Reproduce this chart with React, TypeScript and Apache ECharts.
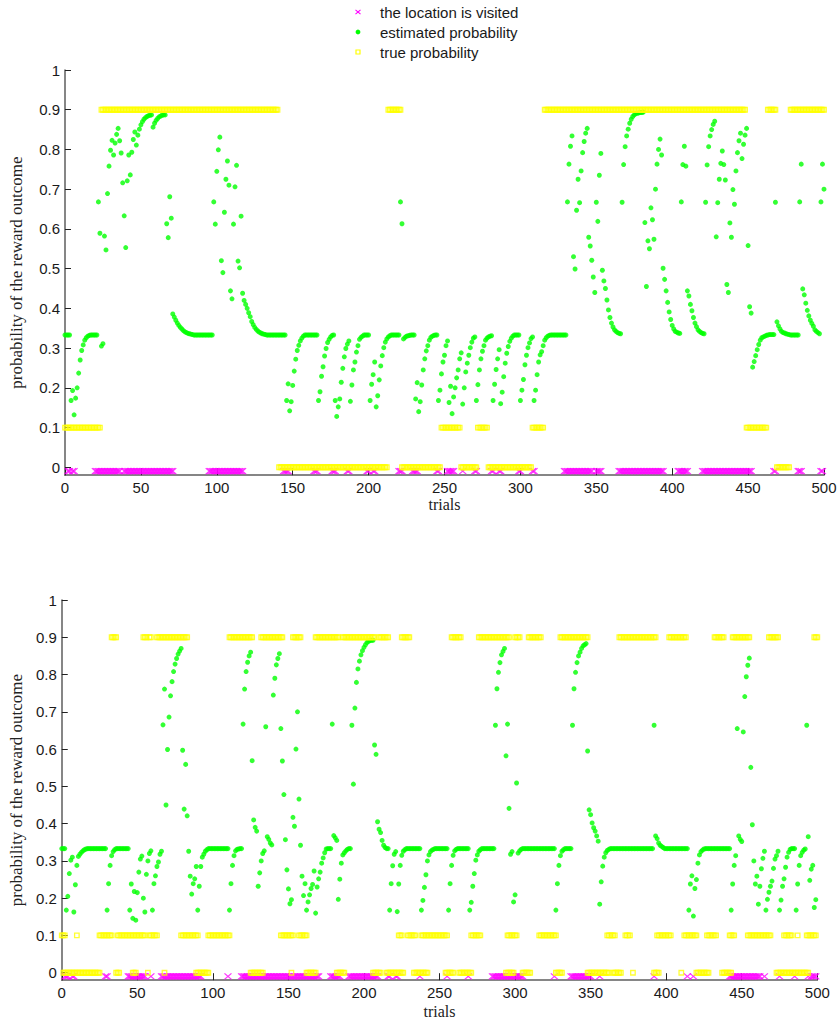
import React, { useEffect, useRef } from 'react';
import * as echarts from 'echarts';

// ---------- data ----------
const Y_TICKS = [0, 0.1, 0.2, 0.3, 0.4, 0.5, 0.6, 0.7, 0.8, 0.9, 1];
const X_MAX = 500;
const X_INTERVAL = 50;
const VISITED_LEVEL = -0.01;
const SERIES_NAMES = ['the location is visited', 'estimated probability', 'true probability'];

// trial ranges [from, to] in which the location is visited
const visitedTop = [
  [2, 3], [5, 6], [20, 36], [39, 71], [95, 117], [144, 147], [164, 166], [176, 178], [186, 187],
  [199, 200], [203, 204], [220, 222], [229, 232], [245, 246], [252, 256], [262, 262], [270, 271],
  [281, 282], [286, 287], [299, 300], [308, 309], [329, 347], [350, 353], [365, 394], [404, 410],
  [420, 452], [467, 468], [483, 485], [498, 499],
];
const visitedBottom = [
  [2, 4], [7, 8], [29, 30], [44, 55], [59, 59], [66, 92], [110, 110], [119, 170], [178, 184],
  [190, 209], [216, 217], [221, 222], [237, 237], [255, 255], [269, 269], [285, 305], [326, 326],
  [337, 350], [356, 356], [392, 392], [414, 414], [418, 418], [442, 462], [465, 465], [475, 475],
  [485, 485], [494, 494], [496, 499],
];

// true probability: [from, to, value]
const trueTop = [
  [0, 23, 0.1], [24, 140, 0.9], [141, 212, 0], [213, 221, 0.9], [222, 247, 0], [248, 260, 0.1],
  [261, 271, 0], [272, 278, 0.1], [279, 307, 0], [308, 315, 0.1], [316, 448, 0.9], [449, 462, 0.1],
  [463, 468, 0.9], [469, 477, 0], [478, 500, 0.9],
];
const trueBottom = [
  [33, 36, 0.9], [54, 56, 0.9], [58, 59, 0.9], [63, 83, 0.9], [111, 126, 0.9], [132, 146, 0.9],
  [153, 158, 0.9], [168, 183, 0.9], [186, 207, 0.9], [210, 216, 0.9], [225, 230, 0.9], [258, 264, 0.9],
  [276, 296, 0.9], [300, 303, 0.9], [309, 317, 0.9], [330, 348, 0.9], [369, 393, 0.9], [402, 413, 0.9],
  [432, 438, 0.9], [444, 455, 0.9], [468, 474, 0.9], [498, 500, 0.9],
  [0, 2, 0.1], [10, 10, 0.1], [25, 33, 0.1], [37, 55, 0.1], [58, 63, 0.1], [79, 90, 0.1], [97, 111, 0.1],
  [145, 153, 0.1], [157, 162, 0.1], [223, 225, 0.1], [229, 234, 0.1], [238, 255, 0.1], [271, 277, 0.1],
  [295, 301, 0.1], [316, 327, 0.1], [361, 366, 0.1], [373, 376, 0.1], [394, 403, 0.1], [412, 420, 0.1],
  [427, 433, 0.1], [442, 445, 0.1], [454, 469, 0.1], [478, 483, 0.1], [487, 487, 0.1], [493, 499, 0.1],
  [1, 25, 0], [36, 38, 0], [47, 49, 0], [57, 57, 0], [68, 68, 0], [89, 97, 0], [125, 133, 0],
  [152, 152, 0], [162, 168, 0], [182, 187, 0], [206, 211, 0], [215, 226, 0], [233, 242, 0],
  [254, 259, 0], [263, 271, 0], [294, 299, 0], [305, 310, 0], [327, 331, 0], [348, 362, 0],
  [365, 370, 0], [378, 378, 0], [392, 395, 0], [410, 410, 0], [420, 428, 0], [437, 443, 0], [473, 494, 0],
];

// estimated probability, one value per trial starting at trial 0
const estTop = [
  .333, .333, .333, .333, .168, .193, .132, .174, .2, .237,
  .27, .294, .308, .32, .326, .33, .332, .333, .333, .333,
  .333, .333, .668, .589, .305, .311, .582, .547, .689, .758,
  .798, .823, .786, .816, .838, .853, .822, .791, .716, .633,
  .553, .721, .786, .736, .793, .825, .844, .811, .836, .851,
  .862, .87, .876, .88, .883, .885, .886, .887, .856, .866,
  .873, .878, .882, .884, .886, .887, .887, .613, .578, .681,
  .627, .386, .378, .37, .363, .357, .352, .348, .344, .341,
  .339, .337, .336, .335, .334, .333, .333, .333, .333, .333,
  .333, .333, .333, .333, .333, .333, .333, .333, .668, .612,
  .745, .799, .831, .52, .49, .642, .725, .771, .71, .444,
  .424, .612, .706, .76, .519, .502, .632, .438, .42, .41,
  .4, .389, .379, .367, .359, .352, .347, .343, .34, .338,
  .336, .335, .334, .333, .333, .333, .333, .333, .333, .333,
  .333, .333, .333, .333, .333, .333, .168, .21, .142, .165,
  .206, .242, .272, .294, .307, .318, .325, .33, .333, .333,
  .333, .333, .333, .333, .333, .333, .333, .168, .19, .229,
  .253, .28, .299, .314, .322, .328, .332, .333, .168, .128,
  .152, .172, .214, .249, .278, .299, .31, .318, .166, .207,
  .245, .265, .29, .306, .322, .327, .33, .333, .333, .333,
  .333, .168, .209, .233, .265, .152, .18, .22, .255, .281,
  .301, .315, .323, .328, .331, .333, .333, .333, .333, .333,
  .333, .668, .613, .323, .327, .33, .331, .332, .333, .333,
  .333, .172, .213, .14, .165, .207, .245, .273, .293, .306,
  .32, .327, .33, .332, .333, .333, .168, .194, .235, .265,
  .282, .306, .318, .163, .204, .135, .177, .2, .225, .245,
  .273, .288, .159, .2, .24, .262, .282, .301, .315, .325,
  .328, .168, .208, .245, .273, .292, .306, .32, .325, .328,
  .33, .331, .168, .209, .246, .273, .296, .16, .189, .228,
  .262, .287, .304, .317, .325, .33, .333, .333, .333, .333,
  .168, .194, .221, .258, .282, .301, .313, .324, .328, .168,
  .194, .233, .265, .283, .291, .306, .32, .326, .33, .332,
  .333, .333, .333, .333, .333, .333, .333, .333, .333, .333,
  .333, .668, .763, .808, .834, .53, .499, .647, .725, .666,
  .746, .792, .82, .841, .853, .579, .557, .521, .479, .44,
  .667, .619, .735, .79, .496, .469, .45, .421, .396, .377,
  .363, .353, .346, .342, .339, .337, .336, .667, .762, .807,
  .834, .851, .866, .876, .883, .887, .89, .891, .892, .893,
  .893, .894, .616, .455, .57, .55, .653, .623, .574, .7,
  .763, .8, .826, .786, .501, .473, .444, .415, .391, .372,
  .357, .348, .342, .34, .338, .337, .668, .762, .808, .758,
  .444, .431, .41, .394, .377, .363, .354, .346, .342, .339,
  .337, .336, .667, .761, .807, .834, .85, .863, .871, .58,
  .666, .725, .765, .796, .762, .723, .46, .44, .615, .579,
  .699, .662, .746, .792, .822, .841, .777, .813, .836, .853,
  .558, .404, .388, .252, .266, .281, .296, .309, .32, .326,
  .328, .33, .332, .333, .334, .334, .334, .334, .667, .366,
  .356, .348, .342, .339, .338, .336, .335, .334, .333, .333,
  .333, .333, .333, .333, .668, .763, .449, .434, .413, .395,
  .381, .37, .362, .355, .346, .342, .339, .336, .668, .763,
  .7,
];

const estBottom = [
  .333, .333, .333, .168, .205, .266, .302, .31, .163, .236,
  .288, .312, .318, .323, .327, .33, .332, .333, .333, .333,
  .333, .333, .333, .333, .333, .333, .333, .333, .333, .333,
  .168, .239, .288, .314, .325, .33, .333, .333, .333, .333,
  .333, .333, .333, .333, .333, .168, .238, .146, .218, .141,
  .215, .27, .305, .313, .2, .163, .264, .3, .32, .327,
  .168, .239, .26, .285, .297, .318, .326, .665, .761, .45,
  .599, .686, .743, .781, .808, .828, .843, .855, .863, .87,
  .597, .439, .559, .421, .326, .259, .211, .239, .252, .285,
  .168, .232, .285, .31, .318, .326, .33, .333, .333, .333,
  .333, .333, .333, .333, .333, .333, .333, .333, .333, .333,
  .333, .168, .239, .288, .314, .327, .331, .332, .333, .333,
  .667, .761, .808, .833, .85, .86, .569, .41, .39, .38,
  .232, .268, .3, .32, .327, .66, .365, .358, .348, .343,
  .745, .79, .826, .843, .856, .655, .568, .478, .357, .276,
  .225, .185, .196, .417, .393, .6, .7, .466, .342, .259,
  .207, .239, .168, .19, .209, .226, .237, .273, .16, .23,
  .252, .27, .294, .308, .322, .332, .333, .333, .333, .667,
  .368, .362, .355, .197, .251, .294, .316, .322, .327, .331,
  .333, .333, .664, .506, .71, .779, .815, .836, .853, .864,
  .873, .88, .886, .889, .891, .892, .892, .611, .586, .405,
  .385, .376, .355, .342, .336, .333, .333, .168, .239, .287,
  .318, .325, .164, .238, .288, .315, .326, .33, .333, .333,
  .333, .333, .333, .333, .333, .333, .333, .333, .168, .194,
  .229, .263, .3, .316, .325, .329, .331, .333, .333, .333,
  .333, .333, .333, .333, .333, .333, .168, .239, .288, .315,
  .327, .331, .333, .333, .333, .333, .333, .333, .333, .333,
  .168, .189, .232, .266, .302, .316, .326, .33, .333, .333,
  .333, .333, .333, .333, .333, .333, .333, .664, .762, .806,
  .832, .853, .862, .87, .582, .667, .441, .318, .325, .19,
  .209, .509, .321, .327, .331, .333, .333, .333, .333, .333,
  .333, .333, .333, .333, .333, .333, .333, .333, .333, .333,
  .333, .333, .333, .333, .333, .333, .333, .168, .239, .288,
  .314, .326, .33, .333, .333, .333, .333, .333, .664, .762,
  .806, .832, .85, .86, .87, .877, .88, .883, .595, .437,
  .424, .402, .389, .38, .367, .353, .184, .244, .286, .31,
  .322, .328, .331, .333, .333, .333, .333, .333, .333, .333,
  .333, .333, .333, .333, .333, .333, .333, .333, .333, .333,
  .333, .333, .333, .333, .333, .333, .333, .333, .333, .333,
  .333, .333, .664, .367, .36, .348, .342, .339, .336, .333,
  .333, .333, .333, .333, .333, .333, .333, .333, .333, .333,
  .333, .333, .333, .333, .333, .168, .238, .26, .152, .226,
  .25, .294, .316, .325, .329, .332, .333, .333, .333, .333,
  .333, .333, .333, .333, .333, .333, .333, .333, .333, .333,
  .333, .333, .333, .168, .238, .288, .314, .655, .367, .358,
  .352, .646, .741, .794, .825, .844, .551, .397, .3, .238,
  .259, .184, .232, .279, .307, .326, .168, .197, .216, .232,
  .246, .28, .305, .314, .326, .168, .195, .232, .252, .283,
  .31, .323, .331, .333, .333, .333, .168, .238, .288, .314,
  .323, .329, .332, .664, .365, .248, .278, .288, .175, .196,
];

// ---------- styling ----------
const SANS = 'Liberation Sans, Arial, Helvetica, sans-serif';
const SERIF = 'Liberation Serif, Times New Roman, serif';
const MAGENTA = '#ff00ff';
const GREEN = '#00ff00';
const YELLOW = '#ffff00';

function rangesToPoints(ranges: number[][]) {
  const pts: number[][] = [];
  ranges.forEach(([a, b]) => {
    for (let t = a; t <= b; t++) pts.push([t, VISITED_LEVEL]);
  });
  return pts;
}
function segsToPoints(segs: number[][]) {
  const pts: number[][] = [];
  segs.forEach(([a, b, v]) => {
    for (let t = a; t <= b; t++) pts.push([t, v]);
  });
  return pts;
}

const axisLineStyle = { color: '#5e5e5e', width: 1.5 };

function makeX(gridIndex: number, nameGap: number) {
  return {
    type: 'value', gridIndex, min: 0, max: X_MAX, interval: X_INTERVAL,
    axisLine: { show: true, onZero: false, lineStyle: axisLineStyle },
    axisTick: { show: true, inside: true, length: 7, lineStyle: { color: '#222', width: 1 } },
    axisLabel: { fontSize: 15, fontFamily: SANS, color: '#1a1a1a', margin: 5 },
    splitLine: { show: false },
    name: 'trials', nameLocation: 'middle', nameGap,
    nameTextStyle: { fontFamily: SERIF, fontSize: 16, color: '#222' },
  };
}
function makeY(gridIndex: number, nameGap: number) {
  return {
    type: 'value', gridIndex, min: -0.02, max: 1,
    axisLine: { show: true, onZero: false, lineStyle: axisLineStyle },
    axisTick: { show: true, inside: true, length: 6, customValues: Y_TICKS, lineStyle: { color: '#222', width: 1 } },
    axisLabel: {
      customValues: Y_TICKS, fontSize: 15, fontFamily: SANS, color: '#1a1a1a', margin: 5,
      formatter: (v: number) => String(Math.round(v * 10) / 10),
    },
    splitLine: { show: false },
    name: 'probability of the reward outcome', nameLocation: 'middle', nameRotate: 90, nameGap,
    nameTextStyle: { fontFamily: SERIF, fontSize: 17, color: '#222' },
  };
}

function makeSeries(i: number, visited: number[][], est: number[], truth: number[][]) {
  return [
    {
      name: SERIES_NAMES[0], type: 'scatter', xAxisIndex: i, yAxisIndex: i, silent: true,
      symbol: 'path://M0,0L10,10M10,0L0,10', symbolSize: [7, 6],
      itemStyle: { color: 'none', borderColor: MAGENTA, borderWidth: 1.2 },
      data: rangesToPoints(visited), z: 2,
    },
    {
      name: SERIES_NAMES[1], type: 'scatter', xAxisIndex: i, yAxisIndex: i, silent: true,
      symbol: 'circle', symbolSize: 5,
      itemStyle: { color: GREEN },
      data: est.map((v, t) => [t, v]), z: 3,
    },
    {
      name: SERIES_NAMES[2], type: 'scatter', xAxisIndex: i, yAxisIndex: i, silent: true,
      symbol: 'rect', symbolSize: 4.5,
      itemStyle: { color: 'rgba(255,255,255,0)', borderColor: YELLOW, borderWidth: 1.3 },
      data: segsToPoints(truth), z: 4,
    },
  ];
}

function legendGraphics() {
  const rows = [12, 32, 52];
  const ix = 358;
  const els: any[] = [
    { type: 'line', shape: { x1: ix - 2.5, y1: rows[0] - 2.2, x2: ix + 2.5, y2: rows[0] + 2.2 }, style: { stroke: MAGENTA, lineWidth: 1.1 } },
    { type: 'line', shape: { x1: ix + 2.5, y1: rows[0] - 2.2, x2: ix - 2.5, y2: rows[0] + 2.2 }, style: { stroke: MAGENTA, lineWidth: 1.1 } },
    { type: 'circle', shape: { cx: ix, cy: rows[1], r: 2.4 }, style: { fill: GREEN } },
    { type: 'rect', shape: { x: ix - 2, y: rows[2] - 2, width: 4, height: 4 }, style: { fill: 'none', stroke: YELLOW, lineWidth: 1.2 } },
  ];
  SERIES_NAMES.forEach((name, k) => {
    els.push({
      type: 'text', x: 380, y: rows[k],
      style: { text: name, fontSize: 15, fontFamily: SANS, fill: '#1a1a1a', align: 'left', verticalAlign: 'middle' },
    });
  });
  return els;
}

export default function App() {
  const ref = useRef<HTMLDivElement>(null);
  useEffect(() => {
    if (!ref.current) return;
    const chart = echarts.init(ref.current, null, { renderer: 'svg' });
    chart.setOption({
      animation: false,
      backgroundColor: '#ffffff',
      grid: [
        { left: 62.5, top: 70, width: 761.5, height: 405.2 },
        { left: 56, top: 600, width: 761.3, height: 380.2 },
      ],
      xAxis: [makeX(0, 21), makeX(1, 23)],
      yAxis: [makeY(0, 40), makeY(1, 36)],
      series: [
        ...makeSeries(0, visitedTop, estTop, trueTop),
        ...makeSeries(1, visitedBottom, estBottom, trueBottom),
      ],
      graphic: legendGraphics(),
    });
    return () => chart.dispose();
  }, []);
  return (
    <div
      ref={ref}
      style={{ position: 'absolute', left: 0, top: 0, width: 840, height: 1021, background: '#fff' }}
    />
  );
}
